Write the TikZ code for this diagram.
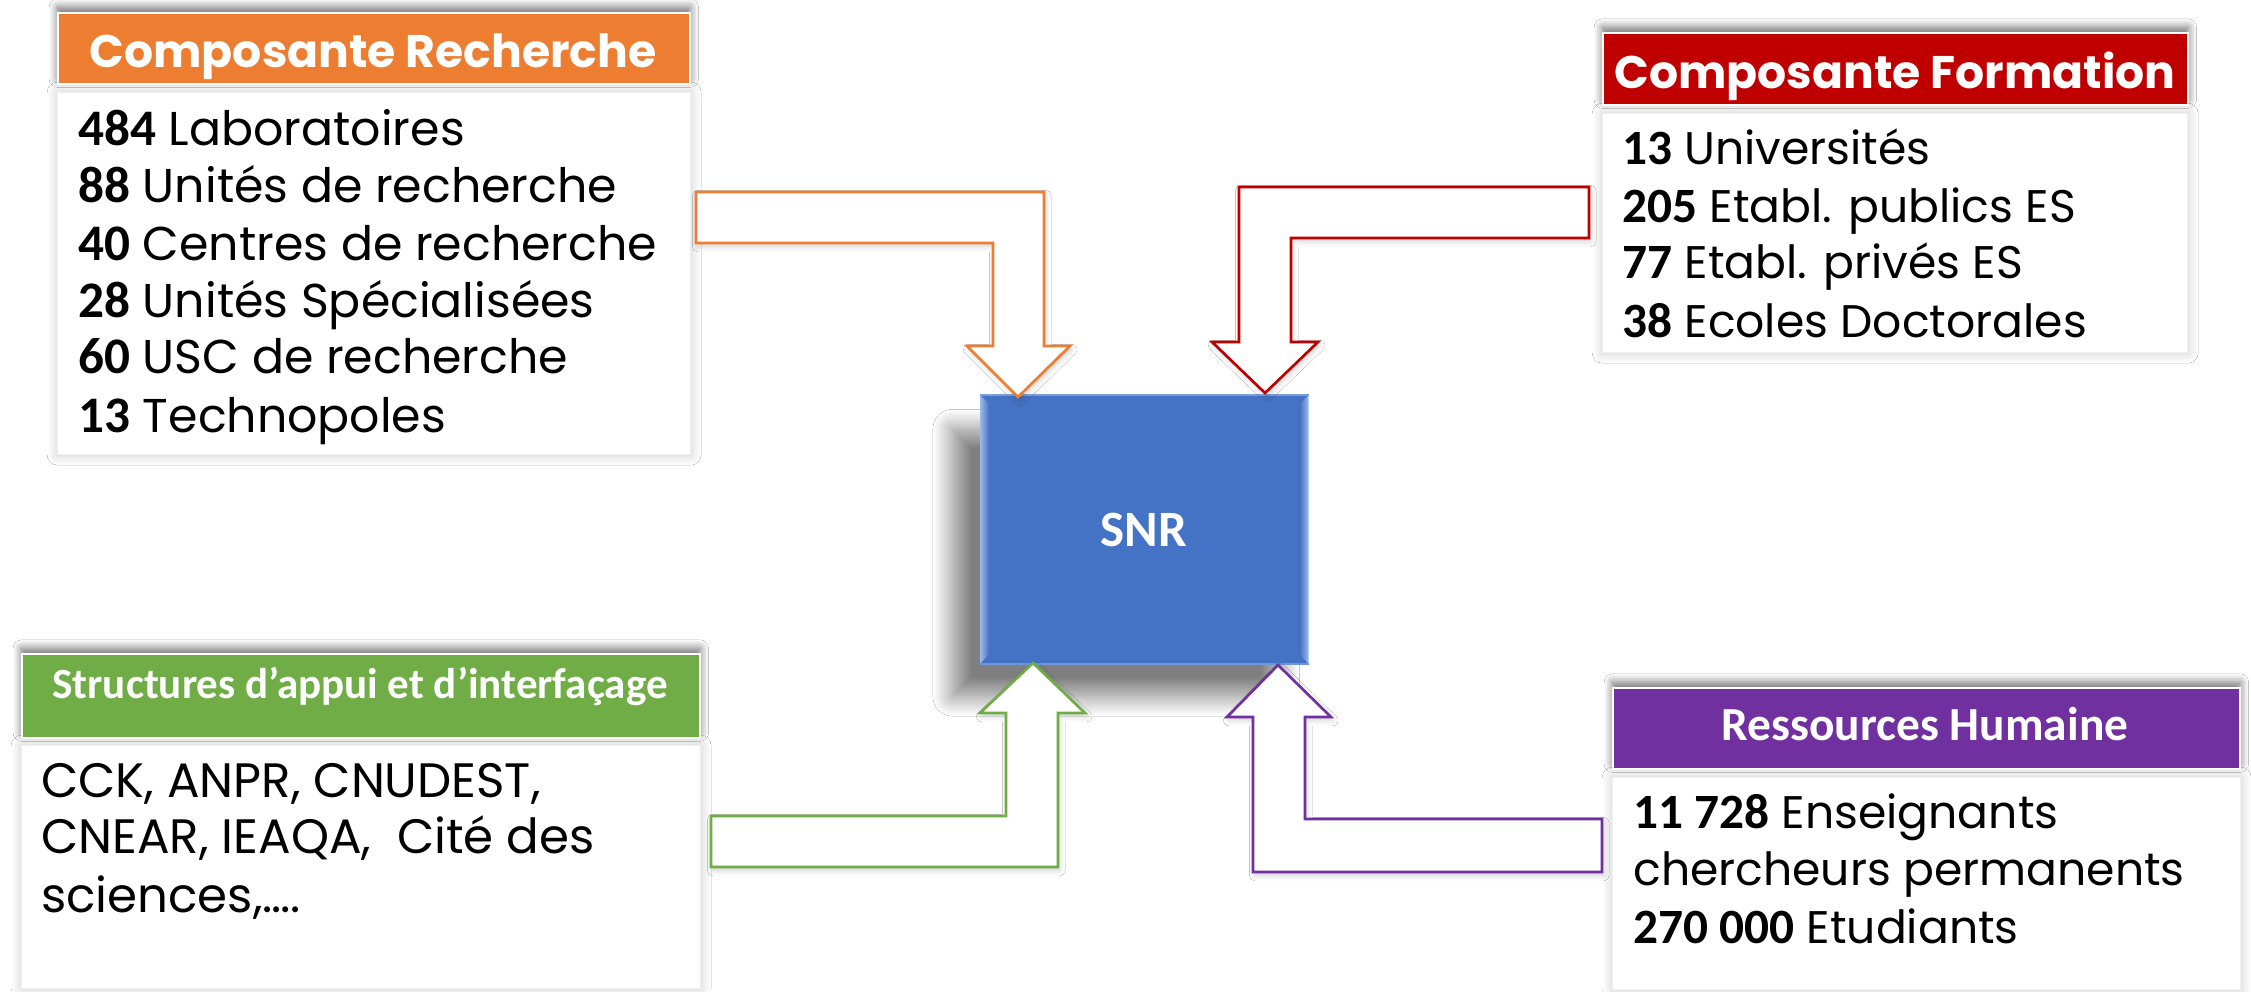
\documentclass[tikz,border=0pt]{standalone}
\usepackage{fontspec}
\setmainfont{Poppins}
\newfontfamily\calib{Carlito}
\newfontfamily\calibn{Carlito}[Scale=1.08]
\usetikzlibrary{shadows.blur}
\definecolor{cOr}{HTML}{ED7D31}
\definecolor{cRe}{HTML}{C00000}
\definecolor{cGr}{HTML}{70AD47}
\definecolor{cPu}{HTML}{7030A0}
\definecolor{cBl}{HTML}{4472C4}
\definecolor{cBlL}{HTML}{9DBBE8}
\newcommand\numb[1]{{\calibn\bfseries #1}}
\tikzset{
  hdr/.style={rectangle, anchor=north west, inner sep=0, draw=white, line width=1pt,
    blur shadow={shadow xshift=0pt, shadow yshift=3pt, shadow blur radius=5pt, shadow blur steps=10, shadow opacity=60}},
  bodybox/.style={rectangle, anchor=north west, inner sep=0, fill=white, draw=black!6, line width=0.8pt,
    blur shadow={shadow xshift=0pt, shadow yshift=0pt, shadow blur radius=6pt, shadow blur steps=10, shadow opacity=22}},
  ln/.style={anchor=base west, inner sep=0, font=\fontsize{26}{30}\selectfont},
  lnr/.style={anchor=base west, inner sep=0, font=\fontsize{27}{30}\selectfont},
  lns/.style={anchor=base west, inner sep=0, font=\fontsize{27.5}{30}\selectfont},
  htxt/.style={anchor=base, inner sep=0, text=white, font=\fontsize{26}{30}\selectfont\bfseries},
  htxtc/.style={anchor=base, inner sep=0, text=white, font=\calib\bfseries\fontsize{27}{30}\selectfont},
  blockarrow/.style={fill=white, line width=1.5pt, line join=miter,
    blur shadow={shadow xshift=1pt, shadow yshift=-2pt, shadow blur radius=3pt, shadow opacity=18}}
}
\begin{document}
\begin{tikzpicture}[x=0.02cm, y=-0.02cm]
\useasboundingbox[fill=white] (0,0) rectangle (2251,991);

% ---------- SNR central box ----------
\node[rectangle, anchor=north west, inner sep=0, fill=cBl, minimum width=6.56cm, minimum height=5.36cm,
  blur shadow={shadow xshift=-16pt, shadow yshift=-19pt, shadow blur radius=11pt, shadow blur steps=20, shadow opacity=50}]
  (snr) at (980,395) {};
\shade[left color=cBlL, right color=cBl] (snr.north west) -- ++(9,9) -- ([xshift=9*0.02cm, yshift=9*0.02cm]snr.south west) -- (snr.south west) -- cycle;
\shade[right color=cBlL, left color=cBl] (snr.north east) -- ++(-9,9) -- ([xshift=-9*0.02cm, yshift=9*0.02cm]snr.south east) -- (snr.south east) -- cycle;
\draw[cBlL!60!cBl, line width=1pt] (snr.north west) -- (snr.north east);
\draw[cBlL!50!cBl, line width=1pt] (snr.south west) -- (snr.south east);
\node[anchor=center, inner sep=0, text=white, font=\calib\bfseries\fontsize{29}{30}\selectfont] (snrt) at (1144,530) {SNR};

% ---------- Composante Recherche ----------
\node[hdr, fill=cOr, minimum width=12.64cm, minimum height=1.42cm] (rh) at (57,12) {};
\node[htxt] (rht) at (373,67) {Composante Recherche};
\node[bodybox, minimum width=12.66cm, minimum height=7.24cm] (rb) at (57,92) {};
\node[lnr] (r1) at (78,145) {\numb{484} Laboratoires};
\node[lnr] (r2) at (78,202) {\numb{88} Unités de recherche};
\node[lnr] (r3) at (78,260) {\numb{40} Centres de recherche};
\node[lnr] (r4) at (78,317) {\numb{28} Unités Spécialisées};
\node[lnr] (r5) at (78,373) {\numb{60} USC de recherche};
\node[lnr] (r6) at (78,432) {\numb{13} Technopoles};

% ---------- Composante Formation ----------
\node[hdr, fill=cRe, minimum width=11.7cm, minimum height=1.44cm] (fh) at (1602,32) {};
\node[htxt] (fht) at (1895,88) {Composante Formation};
\node[bodybox, minimum width=11.7cm, minimum height=4.78cm] (fb) at (1602,113) {};
\node[ln] (f1) at (1622,164) {\numb{13} Universités};
\node[ln] (f2) at (1622,222) {\numb{205} Etabl. publics ES};
\node[ln] (f3) at (1622,278) {\numb{77} Etabl. privés ES};
\node[ln] (f4) at (1622,337) {\numb{38} Ecoles Doctorales};

% ---------- Structures d'appui ----------
\node[hdr, fill=cGr, minimum width=13.56cm, minimum height=1.68cm] (sh) at (21,653) {};
\node[htxtc, font=\calib\bfseries\fontsize{24.5}{26}\selectfont] (sht) at (360,698) {Structures d’appui et d’interfaçage};
\node[bodybox, minimum width=13.58cm, minimum height=4.86cm] (sb) at (21,745) {};
\node[lns] (s1) at (41,797) {CCK, ANPR, CNUDEST,};
\node[lns] (s2) at (41,853) {CNEAR, IEAQA,\ \ Cité des};
\node[lns] (s3) at (41,912) {sciences,….};

% ---------- Ressources Humaine ----------
\node[hdr, fill=cPu, minimum width=12.54cm, minimum height=1.62cm] (hh) at (1612,687) {};
\node[htxtc] (hht) at (1925,740) {Ressources Humaine};
\node[bodybox, minimum width=12.56cm, minimum height=4.24cm] (hb) at (1612,777) {};
\node[ln] (h1) at (1633,828) {\numb{11 728} Enseignants};
\node[ln] (h2) at (1633,885) {chercheurs permanents};
\node[ln] (h3) at (1633,943) {\numb{270 000} Etudiants};

% ---------- block arrows ----------
\draw[blockarrow, draw=cOr] (696,192) -- (1044,192) -- (1044,346) -- (1070,346) -- (1018,397)
  -- (967,346) -- (993,346) -- (993,243) -- (696,243) -- cycle;
\draw[blockarrow, draw=cRe] (1589,187) -- (1239,187) -- (1239,342) -- (1212,342) -- (1265,393)
  -- (1318,342) -- (1291,342) -- (1291,238) -- (1589,238) -- cycle;
\draw[blockarrow, draw=cGr] (711,816) -- (1006,816) -- (1006,713) -- (980,713) -- (1033,663)
  -- (1085,713) -- (1058,713) -- (1058,867) -- (711,867) -- cycle;
\draw[blockarrow, draw=cPu] (1602,819) -- (1305,819) -- (1305,717) -- (1331,717) -- (1278,665)
  -- (1227,717) -- (1253,717) -- (1253,872) -- (1602,872) -- cycle;
\end{tikzpicture}
\end{document}
